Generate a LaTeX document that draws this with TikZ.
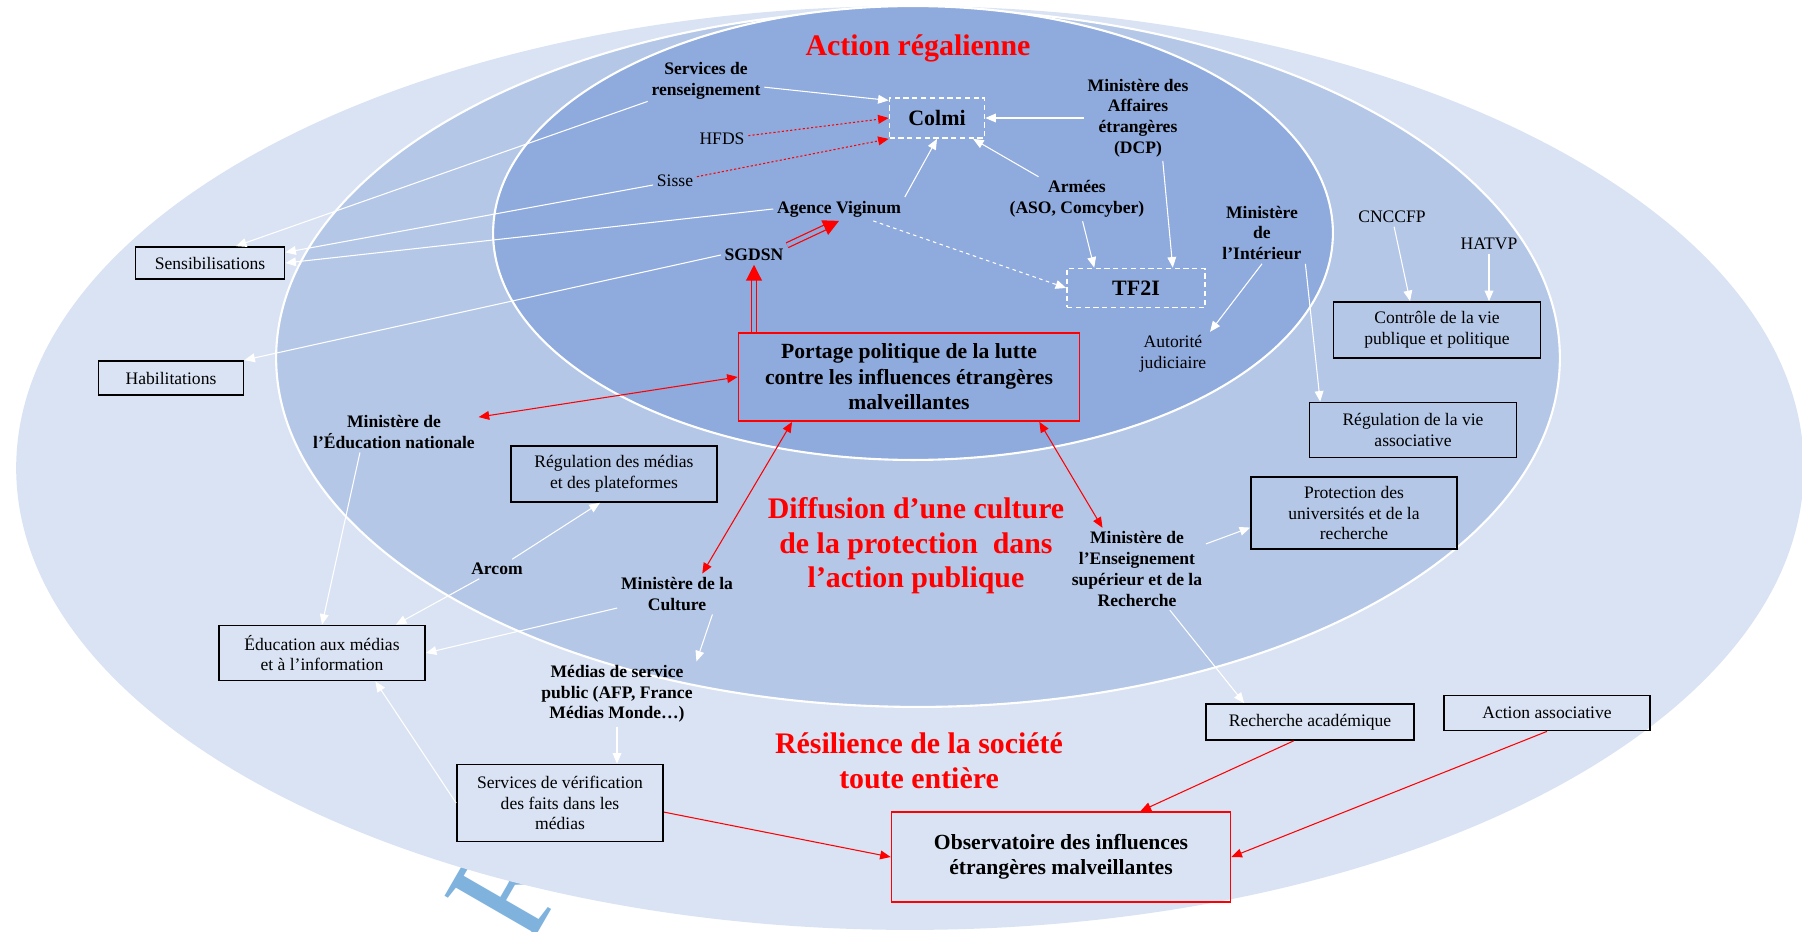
\documentclass[tikz,border=0pt]{standalone}
\usepackage{fontspec}
\setmainfont{Liberation Serif}
\usetikzlibrary{arrows.meta}
\definecolor{ringout}{HTML}{DAE3F3}
\definecolor{ringmid}{HTML}{B4C7E7}
\definecolor{ringin}{HTML}{8FAADC}
\definecolor{stamp}{HTML}{7FB2DD}
\begin{document}
\begin{tikzpicture}[x=0.02cm, y=-0.02cm,
    lbl/.style={align=center, inner sep=2pt, font=\fontsize{10}{11.8}\selectfont\bfseries},
    lbn/.style={align=center, inner sep=2pt, font=\fontsize{10}{11.8}\selectfont},
    title/.style={align=center, text=red, font=\fontsize{17}{19.6}\selectfont\bfseries},
    box/.style={draw=black, line width=1pt, align=center, inner sep=2pt, font=\fontsize{10}{11.8}\selectfont},
    redbox/.style={draw=red, line width=1pt, align=center, font=\fontsize{12.3}{14.5}\selectfont\bfseries},
    dashbox/.style={draw=white, line width=1pt, dash pattern=on 3pt off 2pt, font=\fontsize{12.5}{14}\selectfont\bfseries},
    warrow/.style={white, line width=0.6pt, -{Triangle[length=6pt,width=5pt]}},
    wdash/.style={warrow, dash pattern=on 2pt off 2pt},
    rarrow/.style={red, line width=0.6pt, -{Triangle[length=6pt,width=5pt]}},
    rboth/.style={rarrow, {Triangle[length=6pt,width=5pt]}-{Triangle[length=6pt,width=5pt]}},
    rdot/.style={rarrow, dash pattern=on 1.2pt off 1.2pt},
    rdouble/.style={draw=red, line width=0.7pt, double=ringin, double distance=2.2pt, -{Triangle[length=9pt,width=9pt]}}]
  \useasboundingbox (0,0) rectangle (1802,932);
  \clip (0,0) rectangle (1802,932);
  \node[text=stamp, rotate=60, anchor=base west, inner sep=0pt, font=\fontsize{86}{86}\selectfont] (34) at (528,950) {R};
  \fill[ringout] (910,468) ellipse [x radius=17.88cm, y radius=9.24cm];
  \filldraw[fill=ringmid, draw=white, line width=1.2pt] (918,358) ellipse [x radius=12.84cm, y radius=6.98cm];
  \filldraw[fill=ringin, draw=white, line width=1.2pt] (913,233) ellipse [x radius=8.4cm, y radius=4.54cm];
  \node[title] (1) at (918,48) {Action régalienne};
  \node[title] (2) at (916,546) {Diffusion d’une culture\\de la protection\ \ dans\\l’action publique};
  \node[title] (3) at (919,761) {Résilience de la société\\toute entière};
  \node[dashbox, minimum width=1.9cm, minimum height=0.8cm] (4) at (937,118) {Colmi};
  \node[dashbox, minimum width=2.76cm, minimum height=0.78cm] (5) at (1136,288) {TF2I};
  \node[lbl] (6) at (706,81) {Services de\\renseignement};
  \node[lbn] (7) at (722,139) {HFDS};
  \node[lbn] (8) at (675,181) {Sisse};
  \node[lbl] (9) at (839,209) {Agence Viginum};
  \node[lbl] (10) at (754,255) {SGDSN};
  \node[lbl] (11) at (1138,118) {Ministère des\\Affaires\\étrangères\\(DCP)};
  \node[lbl] (12) at (1077,199) {Armées\\(ASO, Comcyber)};
  \node[lbl] (13) at (1262,233) {Ministère\\de\\l’Intérieur};
  \node[lbn] (14) at (1173,354) {Autorité\\judiciaire};
  \node[lbn] (15) at (1392,217) {CNCCFP};
  \node[lbn] (16) at (1489,244) {HATVP};
  \node[box, minimum width=2.98cm, minimum height=0.64cm] (17) at (210,263) {Sensibilisations};
  \node[box, minimum width=2.9cm, minimum height=0.68cm] (18) at (171,378) {Habilitations};
  \node[box, minimum width=4.14cm, minimum height=1.12cm] (19) at (1437,330) {Contrôle de la vie\\publique et politique};
  \node[box, minimum width=4.14cm, minimum height=1.1cm] (20) at (1413,430) {Régulation de la vie\\associative};
  \node[redbox, minimum width=6.82cm, minimum height=1.76cm] (21) at (909,377) {Portage politique de la lutte\\contre les influences étrangères\\malveillantes};
  \node[lbl] (22) at (394,432) {Ministère de\\l’Éducation nationale};
  \node[box, minimum width=4.12cm, minimum height=1.12cm] (23) at (614,474) {Régulation des médias\\et des plateformes};
  \node[box, minimum width=4.12cm, minimum height=1.44cm] (24) at (1354,513) {Protection des\\universités et de la\\recherche};
  \node[lbl] (25) at (497,569) {Arcom};
  \node[lbl] (26) at (677,594) {Ministère de la\\Culture};
  \node[lbl] (27) at (1137,569) {Ministère de\\l’Enseignement\\supérieur et de la\\Recherche};
  \node[box, minimum width=4.12cm, minimum height=1.1cm] (28) at (322,653) {Éducation aux médias\\et à l’information};
  \node[lbl] (29) at (617,694) {Médias de service\\public (AFP, France\\Médias Monde…)};
  \node[box, minimum width=4.12cm, minimum height=1.54cm] (30) at (560,803) {Services de vérification\\des faits dans les\\médias};
  \node[box, minimum width=4.16cm, minimum height=0.72cm] (31) at (1310,722) {Recherche académique};
  \node[box, minimum width=4.12cm, minimum height=0.7cm] (32) at (1547,713) {Action associative};
  \node[redbox, minimum width=6.78cm, minimum height=1.8cm] (33) at (1061,857) {Observatoire des influences\\étrangères malveillantes};
  \foreach \source/\dest in {6/4.160, 11/4, 9.north east/4.south, 12/4, 12/5.154, 11.300/5.29, 13.south/14.north east, 13.south east/20.163, 15/19.133, 16/19.north -| 16, 6/17.33, 8/17.8, 9.west/17.east, 10.west/18.north east, 22.211/28.north, 25/23.244, 25/28.21, 26/28.east, 26.330/29.north east, 29.south/30.north -| 29.south, 30.west/28.332, 27.20/24.188, 27/31.164}
    \path[warrow] (\source) edge (\dest);
  \path[wdash] (9) edge (5.west);
  \foreach \source/\dest in {21.west/22.10, 21.201/26.39, 21.341/27.130}
    \path[rboth] (\source) edge (\dest);
  \foreach \source/\dest in {30.355/33.west, 31.229/33.30, 32.south/33.east}
    \path[rarrow] (\source) edge (\dest);
  \foreach \source/\dest in {7/4.west, 8/4.south west}
    \path[rdot] (\source) edge (\dest);
  \foreach \source/\dest in {21.north -| 10/10, 10.north east/9.south}
    \draw[rdouble] (\source) -- (\dest);
\end{tikzpicture}
\end{document}
